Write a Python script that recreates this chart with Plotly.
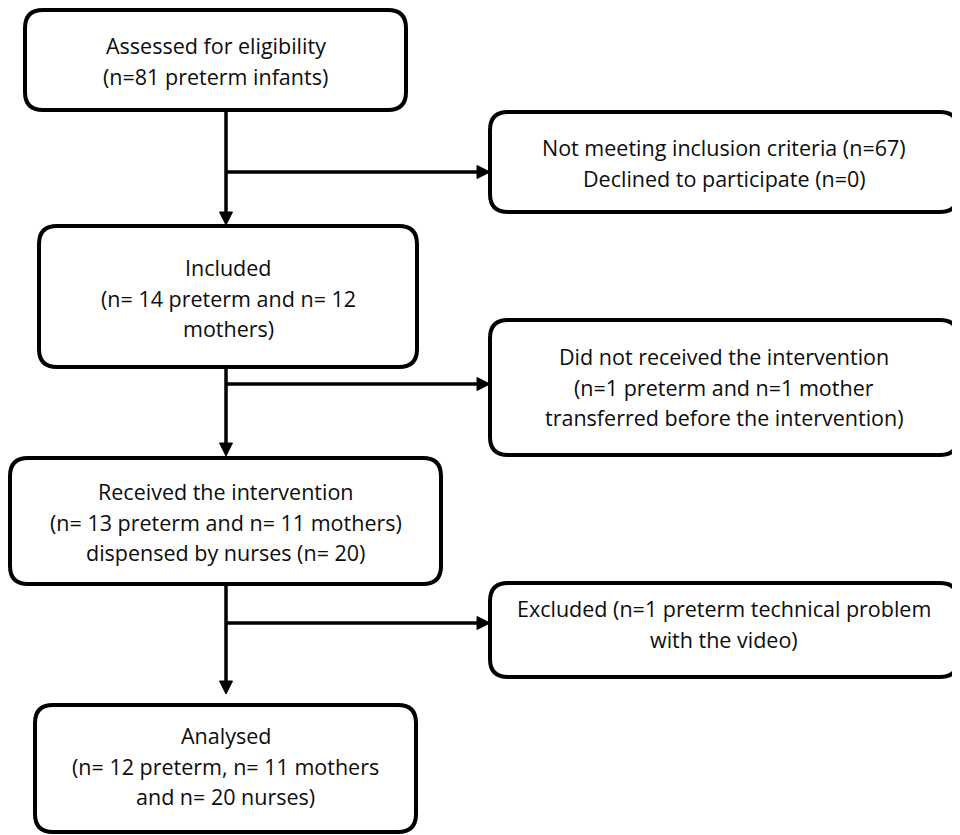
import plotly.graph_objects as go

# ---- content (text of each box) ----
box_names = ["assessed", "not_meeting", "included", "not_received",
             "received", "excluded", "analysed"]
box_lines = [
    ["Assessed for eligibility", "(n=81 preterm infants)"],
    ["Not meeting inclusion criteria (n=67)", "Declined to participate (n=0)"],
    ["Included", "(n= 14 preterm and n= 12", "mothers)"],
    ["Did not received the intervention", "(n=1 preterm and n=1 mother",
     "transferred before the intervention)"],
    ["Received the intervention", "(n= 13 preterm and n= 11 mothers)",
     "dispensed by nurses (n= 20)"],
    ["Excluded (n=1 preterm technical problem", "with the video)"],
    ["Analysed", "(n= 12 preterm, n= 11 mothers", "and n= 20 nurses)"],
]

# ---- layout geometry (pixels, y downward) ----
geom = {  # x0, x1, y0, y1
    "assessed":     (25, 406, 10, 110),
    "not_meeting":  (490, 958, 112, 212),
    "included":     (39, 417, 226, 367),
    "not_received": (490, 958, 320, 455),
    "received":     (10, 441, 458, 584),
    "excluded":     (490, 958, 583, 677),
    "analysed":     (35, 416, 705, 832),
}
text_center_y = {"assessed": 61, "not_meeting": 163, "included": 298,
                 "not_received": 387, "received": 522, "excluded": 624,
                 "analysed": 766}
spine_x = 226
# (from, to_main, to_side, branch_y, main_end_y)
flows = [
    ("assessed", "included", "not_meeting", 172, 225),
    ("included", "received", "not_received", 384, 456),
    ("received", "analysed", "excluded", 623, 694),
]

W, H = 960, 835
PAGE_MARGIN = 8  # default body margin of the written html page
FONT = "Open Sans"
FS = 21.5
LINE_H = 30.5
R = 18
BW = 4
AW = 3.5

fig = go.Figure()
shapes = []
annotations = []


def rrect(x0, x1, y0, y1, r):
    return (f"M {x0+r},{y0} L {x1-r},{y0} Q {x1},{y0} {x1},{y0+r} "
            f"L {x1},{y1-r} Q {x1},{y1} {x1-r},{y1} L {x0+r},{y1} "
            f"Q {x0},{y1} {x0},{y1-r} L {x0},{y0+r} Q {x0},{y0} {x0+r},{y0} Z")


for name, lines in zip(box_names, box_lines):
    x0, x1, y0, y1 = geom[name]
    shapes.append(dict(type="path", path=rrect(x0, x1, y0, y1, R),
                       line=dict(color="black", width=BW),
                       fillcolor="white", layer="above"))
    cx = (x0 + x1) / 2
    cy = text_center_y[name]
    n = len(lines)
    for i, t in enumerate(lines):
        y = cy + (i - (n - 1) / 2) * LINE_H
        annotations.append(dict(x=cx, y=y, xref="x", yref="y", text=t,
                                showarrow=False, xanchor="center",
                                yanchor="middle",
                                font=dict(family=FONT, size=FS,
                                          color="#0d0d0d")))

AH_L, AH_W = 13, 13  # arrowhead length & width
for src, dst, side, by, end_y in flows:
    sy = geom[src][3]
    side_x = geom[side][0]
    shapes.append(dict(type="line", x0=spine_x, x1=spine_x, y0=sy,
                       y1=end_y - AH_L + 1,
                       line=dict(color="black", width=AW)))
    shapes.append(dict(type="path",
                       path=f"M {spine_x-AH_W/2},{end_y-AH_L} L {spine_x+AH_W/2},{end_y-AH_L} L {spine_x},{end_y} Z",
                       line=dict(color="black", width=1), fillcolor="black"))
    shapes.append(dict(type="line", x0=spine_x, x1=side_x - AH_L + 1,
                       y0=by, y1=by, line=dict(color="black", width=AW)))
    shapes.append(dict(type="path",
                       path=f"M {side_x-AH_L},{by-AH_W/2} L {side_x-AH_L},{by+AH_W/2} L {side_x},{by} Z",
                       line=dict(color="black", width=1), fillcolor="black"))

M = PAGE_MARGIN
fig.update_layout(
    width=W - M, height=H - M,
    margin=dict(l=0, r=0, t=0, b=0),
    paper_bgcolor="white", plot_bgcolor="white",
    xaxis=dict(range=[M, W], visible=False, fixedrange=True),
    yaxis=dict(range=[H, M], visible=False, fixedrange=True),
    shapes=shapes, annotations=annotations, showlegend=False,
)
fig.write_html("out.html")
